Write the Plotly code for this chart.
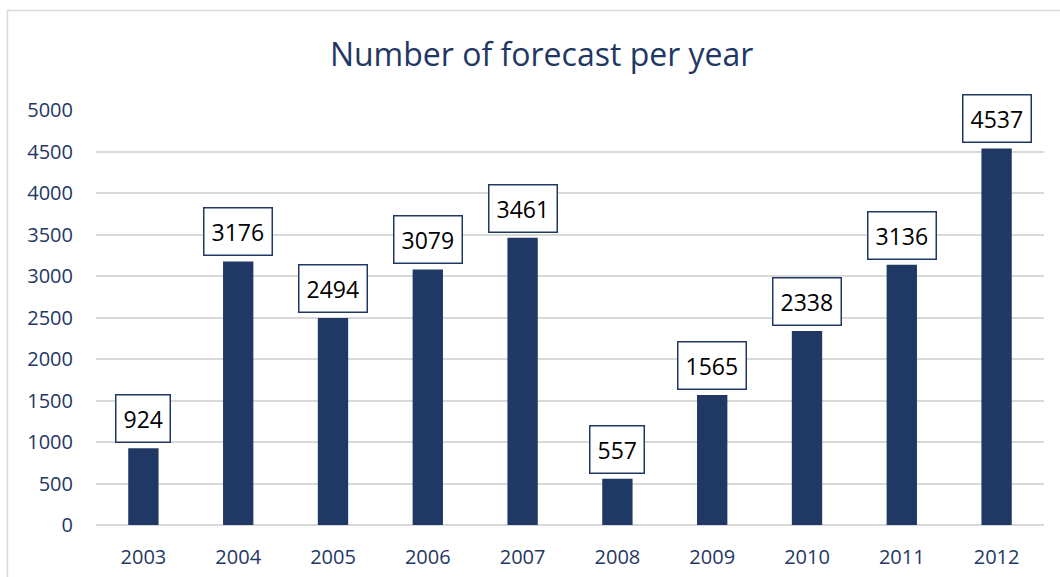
import plotly.graph_objects as go

years = ["2003", "2004", "2005", "2006", "2007", "2008", "2009", "2010", "2011", "2012"]
forecasts = [924, 3176, 2494, 3079, 3461, 557, 1565, 2338, 3136, 4537]
y_ticks = [0, 500, 1000, 1500, 2000, 2500, 3000, 3500, 4000, 4500, 5000]

NAVY = "#1F3864"
FONT = "Open Sans"

fig = go.Figure()
fig.add_trace(go.Bar(
    x=years, y=forecasts,
    marker=dict(color=NAVY, line=dict(width=0)),
    width=0.32,
    hoverinfo="x+y",
))

for i, v in enumerate(forecasts):
    fig.add_annotation(
        x=i, y=v, xref="x", yref="y",
        text=str(v), showarrow=False,
        yanchor="bottom", yshift=5,
        font=dict(family=FONT, size=23, color="black"),
        bgcolor="white", bordercolor=NAVY, borderwidth=1.5, borderpad=7,
    )

fig.update_layout(
    width=1060, height=577,
    margin=dict(l=96, r=16, t=110, b=52),
    paper_bgcolor="white", plot_bgcolor="white",
    showlegend=False,
    title=dict(
        text="Number of forecast per year",
        x=0.511, xanchor="center", y=0.905, yanchor="middle",
        font=dict(family=FONT, size=32, color=NAVY),
    ),
    xaxis=dict(
        type="category",
        categoryorder="array", categoryarray=years,
        tickfont=dict(family=FONT, size=20, color=NAVY),
        showgrid=False, showline=False, ticks="",
        ticklabelstandoff=18, automargin=False,
    ),
    yaxis=dict(
        range=[0, 5000],
        tickvals=y_ticks,
        ticktext=[str(t) for t in y_ticks],
        tickfont=dict(family=FONT, size=20, color=NAVY),
        showgrid=True, gridcolor="#D9D9D9", gridwidth=1.5,
        zeroline=True, zerolinecolor="#D9D9D9", zerolinewidth=1.5,
        showline=False, ticks="",
        ticklabelstandoff=22, automargin=False,
    ),
    shapes=[dict(
        type="rect", xref="paper", yref="paper",
        x0=-0.0934, x1=1.03, y0=-0.2, y1=1.2398,
        line=dict(color="#D9D9D9", width=1.5), fillcolor="rgba(0,0,0,0)",
        layer="below",
    )],
)

fig.write_html("out.html")
